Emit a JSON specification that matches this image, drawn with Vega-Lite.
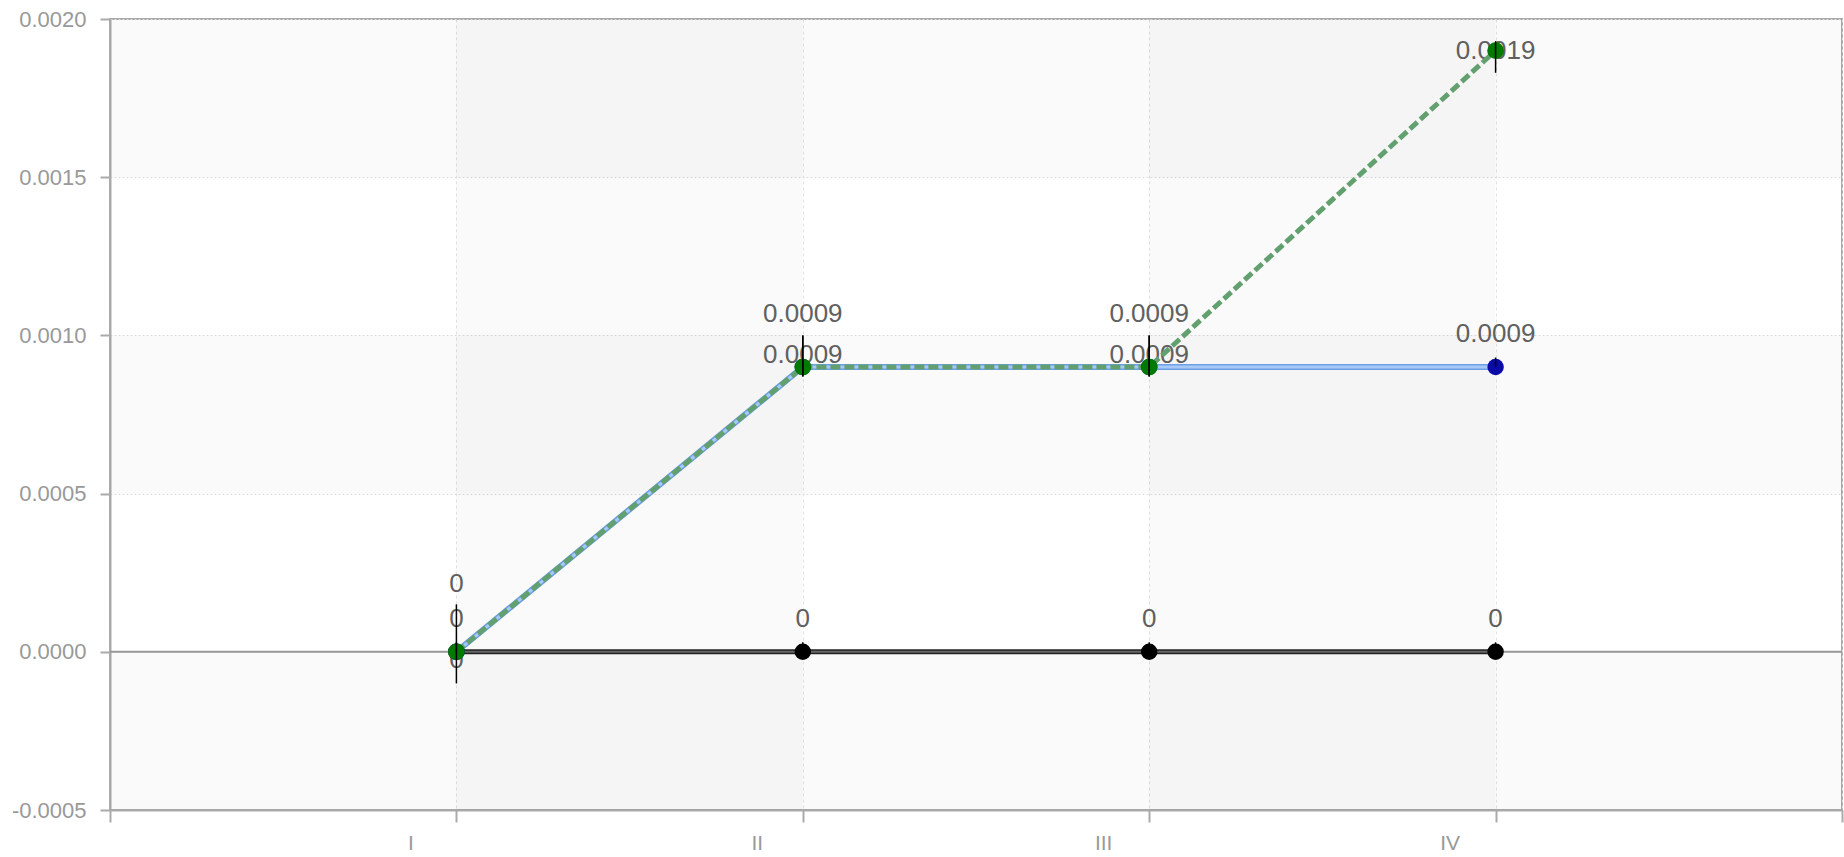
{
  "$schema": "https://vega.github.io/schema/vega-lite/v6.json",
  "width": 1732,
  "height": 791,
  "autosize": {"type": "none"},
  "padding": {"left": 110, "top": 19, "right": 2, "bottom": 47},
  "background": "white",
  "config": {
    "view": {"stroke": "#aaaaaa", "strokeWidth": 2},
    "font": "Liberation Sans"
  },
  "datasets": {
    "series": [
      {"series": "A", "idx": 1, "value": 0, "lo": 0, "hi": 0.00003},
      {"series": "A", "idx": 2, "value": 0, "lo": 0, "hi": 0.00003},
      {"series": "A", "idx": 3, "value": 0, "lo": 0, "hi": 0.00003},
      {"series": "A", "idx": 4, "value": 0, "lo": 0, "hi": 0.00003},
      {"series": "B", "idx": 1, "value": 0, "lo": -0.0001, "hi": 0.00015},
      {"series": "B", "idx": 2, "value": 0.0009, "lo": 0.00087, "hi": 0.001},
      {"series": "B", "idx": 3, "value": 0.0009, "lo": 0.00087, "hi": 0.001},
      {"series": "B", "idx": 4, "value": 0.0009, "lo": 0.0009, "hi": 0.00093},
      {"series": "C", "idx": 1, "value": 0, "lo": 0, "hi": 0},
      {"series": "C", "idx": 2, "value": 0.0009, "lo": 0.00087, "hi": 0.001},
      {"series": "C", "idx": 3, "value": 0.0009, "lo": 0.00087, "hi": 0.001},
      {"series": "C", "idx": 4, "value": 0.0019, "lo": 0.00183, "hi": 0.00193}
    ],
    "hbands": [
      {"lo": -0.0005, "hi": 0},
      {"lo": 0.0005, "hi": 0.001},
      {"lo": 0.0015, "hi": 0.002}
    ],
    "vbands": [
      {"from": 1, "to": 2},
      {"from": 3, "to": 4}
    ],
    "zero": [{"level": 0}]
  },
  "layer": [
    {
      "data": {"name": "hbands"},
      "mark": {"type": "rect", "color": "black", "opacity": 0.02},
      "encoding": {
        "y": {
          "field": "lo", "type": "quantitative",
          "scale": {"domain": [-0.0005, 0.002], "nice": false, "zero": false},
          "axis": {
            "title": null,
            "values": [-0.0005, 0, 0.0005, 0.001, 0.0015, 0.002],
            "labelExpr": "replace(format(datum.value, '.4f'), '\u2212', '-')",
            "labelFontSize": 22,
            "labelColor": "#999999",
            "labelPadding": 14,
            "tickSize": 10,
            "tickColor": "#aaaaaa",
            "tickWidth": 2,
            "domainColor": "#aaaaaa",
            "domainWidth": 2,
            "grid": true,
            "gridColor": "#dddddd",
            "gridDash": [2, 2],
            "gridWidth": 1
          }
        },
        "y2": {"field": "hi"}
      }
    },
    {
      "data": {"name": "vbands"},
      "mark": {"type": "rect", "color": "black", "opacity": 0.02},
      "encoding": {
        "x": {
          "field": "from", "type": "quantitative",
          "scale": {"domain": [0, 5], "nice": false, "zero": false},
          "axis": {
            "title": null,
            "values": [0, 1, 2, 3, 4, 5],
            "labelExpr": "['', 'I', 'II', 'III', 'IV', ''][datum.value]",
            "labelFontSize": 21,
            "labelColor": "#999999",
            "labelOffset": -46,
            "labelPadding": 10,
            "tickSize": 12,
            "tickColor": "#aaaaaa",
            "tickWidth": 2,
            "domainColor": "#aaaaaa",
            "domainWidth": 2,
            "grid": true,
            "gridColor": "#e2e2e2",
            "gridDash": [3, 3],
            "gridWidth": 1
          }
        },
        "x2": {"field": "to"}
      }
    },
    {
      "data": {"name": "zero"},
      "mark": {"type": "rule", "color": "#999999", "strokeWidth": 2},
      "encoding": {"y": {"field": "level", "type": "quantitative"}}
    },
    {
      "data": {"name": "series"},
      "transform": [{"filter": "datum.series == 'A'"}],
      "mark": {"type": "text", "dy": -33, "fontSize": 26, "color": "#606060"},
      "encoding": {
        "x": {"field": "idx", "type": "quantitative"},
        "y": {"field": "value", "type": "quantitative"},
        "text": {"field": "value", "type": "quantitative", "format": "~g"}
      }
    },
    {
      "data": {"name": "series"},
      "transform": [{"filter": "datum.series == 'B' && datum.idx == 1"}],
      "mark": {"type": "text", "dy": 8, "fontSize": 26, "color": "#606060"},
      "encoding": {
        "x": {"field": "idx", "type": "quantitative"},
        "y": {"field": "value", "type": "quantitative"},
        "text": {"field": "value", "type": "quantitative", "format": "~g"}
      }
    },
    {
      "data": {"name": "series"},
      "transform": [{"filter": "datum.series == 'B' && (datum.idx == 2 || datum.idx == 3)"}],
      "mark": {"type": "text", "dy": -12, "fontSize": 26, "color": "#606060"},
      "encoding": {
        "x": {"field": "idx", "type": "quantitative"},
        "y": {"field": "value", "type": "quantitative"},
        "text": {"field": "value", "type": "quantitative", "format": "~g"}
      }
    },
    {
      "data": {"name": "series"},
      "transform": [{"filter": "datum.series == 'B' && datum.idx == 4"}],
      "mark": {"type": "text", "dy": -33, "fontSize": 26, "color": "#606060"},
      "encoding": {
        "x": {"field": "idx", "type": "quantitative"},
        "y": {"field": "value", "type": "quantitative"},
        "text": {"field": "value", "type": "quantitative", "format": "~g"}
      }
    },
    {
      "data": {"name": "series"},
      "transform": [{"filter": "datum.series == 'C' && datum.idx == 1"}],
      "mark": {"type": "text", "dy": -68, "fontSize": 26, "color": "#606060"},
      "encoding": {
        "x": {"field": "idx", "type": "quantitative"},
        "y": {"field": "value", "type": "quantitative"},
        "text": {"field": "value", "type": "quantitative", "format": "~g"}
      }
    },
    {
      "data": {"name": "series"},
      "transform": [{"filter": "datum.series == 'C' && (datum.idx == 2 || datum.idx == 3)"}],
      "mark": {"type": "text", "dy": -53, "fontSize": 26, "color": "#606060"},
      "encoding": {
        "x": {"field": "idx", "type": "quantitative"},
        "y": {"field": "value", "type": "quantitative"},
        "text": {"field": "value", "type": "quantitative", "format": "~g"}
      }
    },
    {
      "data": {"name": "series"},
      "transform": [{"filter": "datum.series == 'C' && datum.idx == 4"}],
      "mark": {"type": "text", "dy": 0, "fontSize": 26, "color": "#606060"},
      "encoding": {
        "x": {"field": "idx", "type": "quantitative"},
        "y": {"field": "value", "type": "quantitative"},
        "text": {"field": "value", "type": "quantitative", "format": "~g"}
      }
    },
    {
      "data": {"name": "series"},
      "transform": [{"filter": "datum.series == 'A'"}],
      "mark": {"type": "line", "color": "#222222", "strokeWidth": 5},
      "encoding": {
        "x": {"field": "idx", "type": "quantitative"},
        "y": {"field": "value", "type": "quantitative"}
      }
    },
    {
      "data": {"name": "series"},
      "transform": [{"filter": "datum.series == 'A'"}],
      "mark": {"type": "line", "color": "#666666", "strokeWidth": 2},
      "encoding": {
        "x": {"field": "idx", "type": "quantitative"},
        "y": {"field": "value", "type": "quantitative"}
      }
    },
    {
      "data": {"name": "series"},
      "transform": [{"filter": "datum.series == 'B'"}],
      "mark": {"type": "line", "color": "#6d9fe6", "strokeWidth": 6},
      "encoding": {
        "x": {"field": "idx", "type": "quantitative"},
        "y": {"field": "value", "type": "quantitative"}
      }
    },
    {
      "data": {"name": "series"},
      "transform": [{"filter": "datum.series == 'B'"}],
      "mark": {"type": "line", "color": "#a6c9f6", "strokeWidth": 3},
      "encoding": {
        "x": {"field": "idx", "type": "quantitative"},
        "y": {"field": "value", "type": "quantitative"}
      }
    },
    {
      "data": {"name": "series"},
      "transform": [{"filter": "datum.series == 'C'"}],
      "mark": {"type": "line", "color": "#62a06f", "strokeWidth": 5, "strokeDash": [10, 4]},
      "encoding": {
        "x": {"field": "idx", "type": "quantitative"},
        "y": {"field": "value", "type": "quantitative"}
      }
    },
    {
      "data": {"name": "series"},
      "transform": [{"filter": "datum.series == 'A'"}],
      "mark": {"type": "circle", "color": "#000000", "size": 270, "opacity": 1},
      "encoding": {
        "x": {"field": "idx", "type": "quantitative"},
        "y": {"field": "value", "type": "quantitative"}
      }
    },
    {
      "data": {"name": "series"},
      "transform": [{"filter": "datum.series == 'B'"}],
      "mark": {"type": "circle", "color": "#0a0aa8", "size": 270, "opacity": 1},
      "encoding": {
        "x": {"field": "idx", "type": "quantitative"},
        "y": {"field": "value", "type": "quantitative"}
      }
    },
    {
      "data": {"name": "series"},
      "transform": [{"filter": "datum.series == 'C'"}],
      "mark": {"type": "circle", "color": "#007a00", "size": 280, "opacity": 1},
      "encoding": {
        "x": {"field": "idx", "type": "quantitative"},
        "y": {"field": "value", "type": "quantitative"}
      }
    },
    {
      "data": {"name": "series"},
      "transform": [{"filter": "datum.hi > datum.lo"}],
      "mark": {"type": "rule", "color": "#000000", "strokeWidth": 1.5},
      "encoding": {
        "x": {"field": "idx", "type": "quantitative"},
        "y": {"field": "lo", "type": "quantitative"},
        "y2": {"field": "hi"}
      }
    }
  ]
}
